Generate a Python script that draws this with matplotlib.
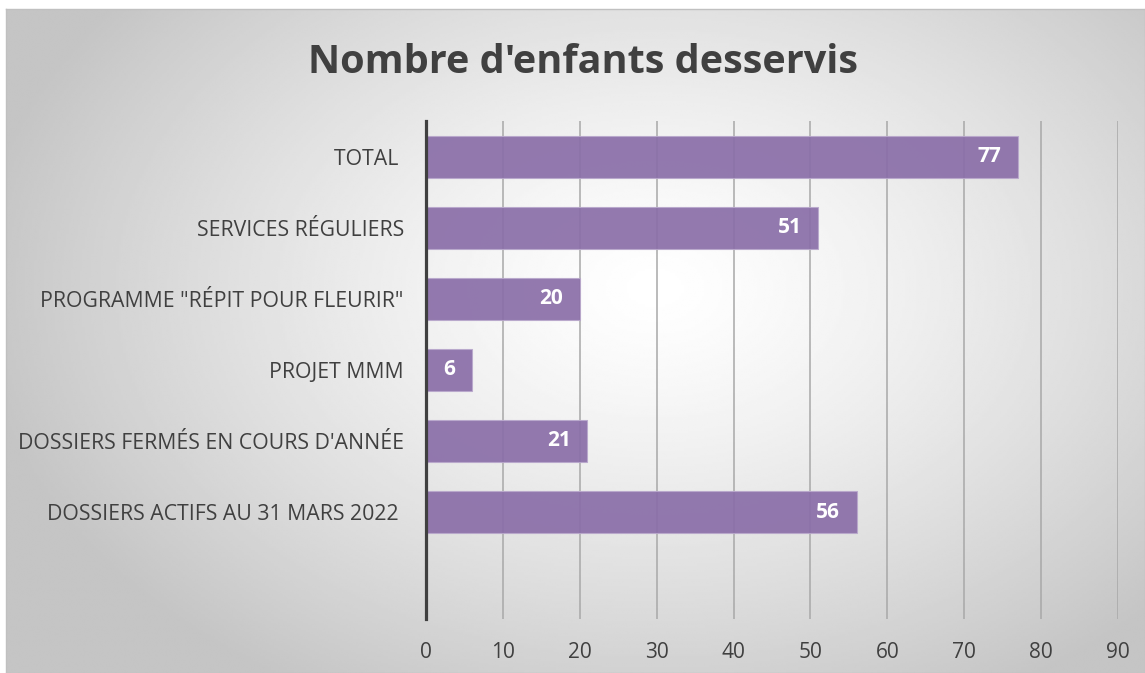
import numpy as np
import matplotlib
matplotlib.use("Agg")
import matplotlib.pyplot as plt

plt.rcParams['font.family'] = ['Open Sans', 'DejaVu Sans']

categories = ["DOSSIERS ACTIFS AU 31 MARS 2022 ",
              "DOSSIERS FERMÉS EN COURS D'ANNÉE",
              "PROJET MMM",
              "PROGRAMME \"RÉPIT POUR FLEURIR\"",
              "SERVICES RÉGULIERS",
              "TOTAL "]
values = [56, 21, 6, 20, 51, 77]
xticks = [0, 10, 20, 30, 40, 50, 60, 70, 80, 90]

text_col = '#404040'
bar_col = '#8a6ea8'

fig = plt.figure(figsize=(11.45, 6.73), dpi=100)

# radial gradient background
bg = fig.add_axes([6 / 1145, 0, 1 - 6 / 1145, 1 - 9 / 673])
yy, xx = np.mgrid[0:1:300j, 0:1:500j]
r = np.sqrt(((xx - 0.57) / 0.85) ** 2 + ((yy - 0.42) / 1.0) ** 2)
shade = np.clip(1 - 0.36 * r ** 1.3, 0.77, 1.0)
bg.imshow(shade, cmap='gray', vmin=0, vmax=1, aspect='auto',
          extent=[0, 1, 0, 1], origin='upper', interpolation='bilinear')
bg.set_xticks([])
bg.set_yticks([])
for s in bg.spines.values():
    s.set_color('#c0c0c0')
    s.set_linewidth(1)

ax = fig.add_axes([426 / 1145, 1 - 618.5 / 673, 692 / 1145, 497 / 673])
ax.patch.set_alpha(0)
pos = np.arange(len(categories))
ax.barh(pos, values, height=0.59, color=bar_col, alpha=0.92,
        edgecolor='#b9a8cc', linewidth=0.8, zorder=3)
for p, v in zip(pos, values):
    ax.annotate(str(v), (v, p), xytext=(-12, 0), textcoords='offset points',
                ha='right', va='center', color='white', fontsize=15,
                fontweight='bold', zorder=4)

ax.set_xlim(0, 90)
ax.set_ylim(-1.5, len(categories) - 0.5)
ax.set_xticks(xticks)
ax.set_yticks(pos)
ax.set_yticklabels(categories, fontsize=15.3)
ax.tick_params(axis='both', length=0, colors=text_col)
ax.tick_params(axis='x', pad=17, labelsize=15)
ax.tick_params(axis='y', pad=16)
ax.grid(axis='x', color='#a8a8a8', linewidth=1.1, zorder=1)
ax.set_axisbelow(True)
for side in ['top', 'right', 'bottom']:
    ax.spines[side].set_visible(False)
ax.spines['left'].set_color('#404040')
ax.spines['left'].set_linewidth(2.3)
ax.spines['left'].set_zorder(5)

fig.text(0.509, 0.907, "Nombre d'enfants desservis", ha='center', va='center',
         fontsize=28.5, fontweight='bold', color=text_col)

fig.savefig('out.png', dpi=100)
